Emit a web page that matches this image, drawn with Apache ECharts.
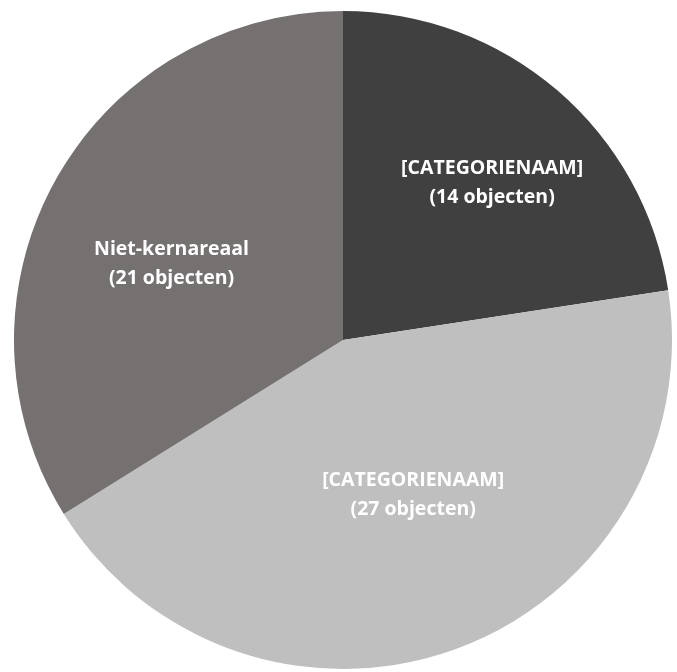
<!DOCTYPE html>
<html><head><meta charset="utf-8">
<script src="https://cdn.jsdelivr.net/npm/echarts@6/dist/echarts.min.js"></script>
<style>html,body{margin:0;padding:0;background:#fff}#c{width:677px;height:672px}</style>
</head><body><div id="c"></div>
<script>
const categories = ['[CATEGORIENAAM]', '[CATEGORIENAAM]', 'Niet-kernareaal'];
const values = [14, 27, 21];
const colors = ['#404040', '#bfbfbf', '#767171'];
const labelOffsets = [[40, -30], [12, -2], [-25, 5]];
const chart = echarts.init(document.getElementById('c'), null, {renderer: 'canvas'});
chart.setOption({
  animation: false,
  series: [{
    type: 'pie',
    center: [343, 340],
    radius: [0, 329],
    startAngle: 90,
    clockwise: true,
    avoidLabelOverlap: false,
    label: {
      show: true, position: 'inside', color: '#ffffff', fontWeight: 'bold',
      fontFamily: 'Open Sans', fontSize: 19.5, lineHeight: 29,
      formatter: p => p.name + '\n(' + p.value + ' objecten)'
    },
    labelLine: {show: false},
    itemStyle: {borderWidth: 0},
    emphasis: {disabled: true},
    data: categories.map((n, i) => ({name: n, value: values[i], itemStyle: {color: colors[i]}, label: {offset: labelOffsets[i]}}))
  }]
});
</script></body></html>
